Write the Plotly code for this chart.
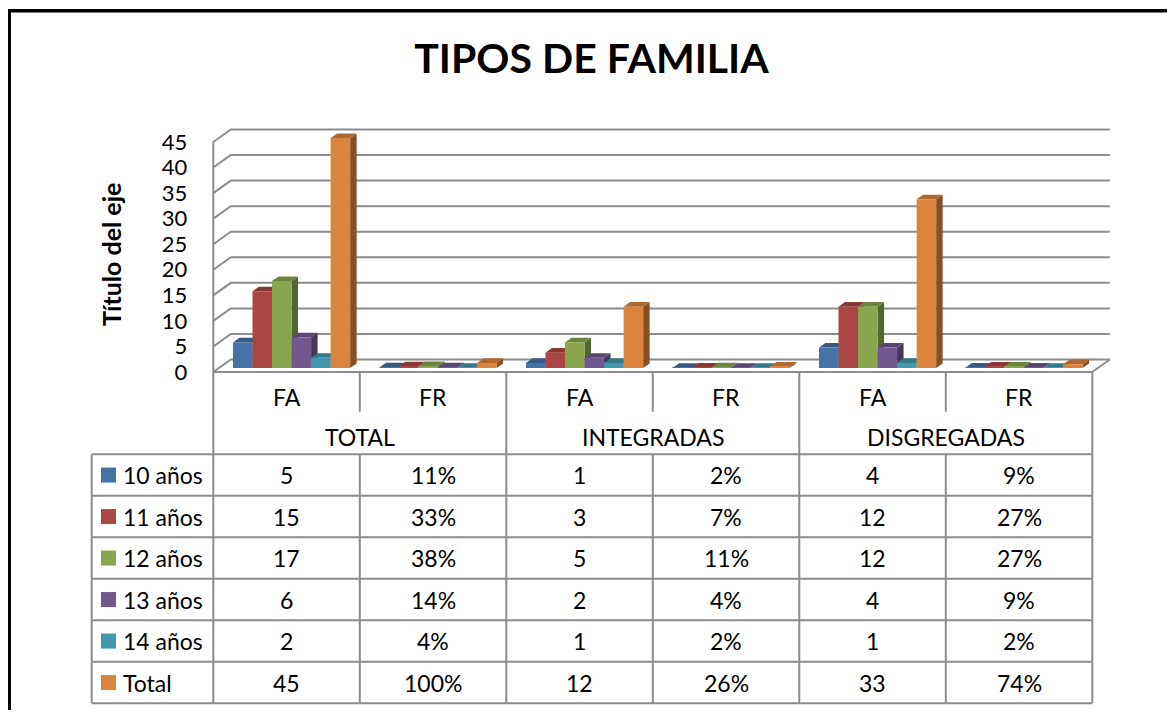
import plotly.graph_objects as go

# ---- values ----
series_names = ["10 años", "11 años", "12 años", "13 años", "14 años", "Total"]
group_names = ["TOTAL", "INTEGRADAS", "DISGREGADAS"]
measure_names = ["FA", "FR"]

total_fa = [5, 15, 17, 6, 2, 45]
total_fr = [0.11, 0.33, 0.38, 0.14, 0.04, 1.00]
integradas_fa = [1, 3, 5, 2, 1, 12]
integradas_fr = [0.02, 0.07, 0.11, 0.04, 0.02, 0.26]
disgregadas_fa = [4, 12, 12, 4, 1, 33]
disgregadas_fr = [0.09, 0.27, 0.27, 0.09, 0.02, 0.74]

y_ticks = [0, 5, 10, 15, 20, 25, 30, 35, 40, 45]

front_colors = ["#4572A7", "#AA4643", "#89A54E", "#71588F", "#4198AF", "#DB843D"]

# one column per category on the x axis: FA, FR for each group
columns = [total_fa, total_fr, integradas_fa, integradas_fr, disgregadas_fa, disgregadas_fr]
col_labels = measure_names * len(group_names)
col_is_pct = [False, True] * len(group_names)

# ---- geometry, in pixels of the 1175x718 window ----
W, H = 1175, 718
OFF = 8                              # the page body margin puts the figure 8px in
FW, FH = W - 2 * OFF, H - 2 * OFF    # keep the page from overflowing the window
X0_PX = 213.3      # left edge of the first category on the front plane
CAT_PX = 146.5     # width of one category
Y0_PX = 372.0      # value 0 on the front plane
VAL_PX = 5.111     # pixels per unit
FONT = "Lato"
LINE = "#8c8c8c"


def xv(px):
    return -0.5 + (px - X0_PX) / CAT_PX


def yv(py):
    return (Y0_PX - py) / VAL_PX


def px_paper(px):
    return (px - OFF) / FW


def py_paper(py):
    return 1 - (py - OFF) / FH


def darker(hex_color, f):
    r, g, b = (int(hex_color[i:i + 2], 16) for i in (1, 3, 5))
    return "rgb(%d,%d,%d)" % (r * f, g * f, b * f)


n_cat = len(columns)
DX, DY = 17.5 / CAT_PX, 12.5 / VAL_PX        # wall depth
BDX, BDY = 6.5 / CAT_PX, 4.6 / VAL_PX        # bar depth
Z0 = 4.0 / VAL_PX                            # bars stand a bit back on the floor
XSHIFT = 5.0 / CAT_PX
BW = 0.8 / len(series_names)
x_right = n_cat - 0.5

fig = go.Figure()
shapes = []


def path(pts):
    return "M" + " L".join("%.4f,%.4f" % p for p in pts) + " Z"


# walls: gridlines on the back wall + diagonals on the side wall
for v in y_ticks:
    shapes.append(dict(type="path", xref="x", yref="y", layer="below",
                       path="M%.4f,%.4f L%.4f,%.4f L%.4f,%.4f" % (
                           -0.5, v, -0.5 + DX, v + DY, x_right + DX, v + DY),
                       line=dict(color=LINE, width=2)))
# floor front edge and right side
shapes.append(dict(type="path", xref="x", yref="y", layer="below",
                   path="M%.4f,0 L%.4f,0 L%.4f,%.4f" % (-0.5, x_right, x_right + DX, DY),
                   line=dict(color=LINE, width=2)))

# bars: side and top faces as shapes, front faces as bar traces
for i, col in enumerate(columns):
    for k, val in enumerate(col):
        xl = i + XSHIFT - 3 * BW + k * BW
        xr = xl + BW
        top = Z0 + val
        shapes.append(dict(type="path", xref="x", yref="y", layer="below",
                           path=path([(xr, Z0), (xr, top), (xr + BDX, top + BDY), (xr + BDX, Z0 + BDY)]),
                           fillcolor=darker(front_colors[k], 0.62), line=dict(width=0)))
        shapes.append(dict(type="path", xref="x", yref="y", layer="below",
                           path=path([(xl, top), (xr, top), (xr + BDX, top + BDY), (xl + BDX, top + BDY)]),
                           fillcolor=darker(front_colors[k], 0.8), line=dict(width=0)))

for k, name in enumerate(series_names):
    fig.add_trace(go.Bar(
        x=[i + XSHIFT for i in range(n_cat)],
        y=[col[k] for col in columns],
        base=Z0, width=BW, offset=-3 * BW + k * BW,
        marker=dict(color=front_colors[k], line=dict(width=0)),
        name=name, showlegend=False,
    ))

# ---- data table under the chart ----
ROW_TOP, ROW_H = 454.3, 41.5
row_lines = [ROW_TOP + r * ROW_H for r in range(len(series_names) + 1)]
table_bottom = yv(row_lines[-1])
legend_left = xv(91.7)

# front axis line continues into the table
shapes.append(dict(type="line", xref="x", yref="y", x0=-0.5, x1=-0.5, y0=max(y_ticks),
                   y1=table_bottom, line=dict(color=LINE, width=2)))
for g in range(1, len(group_names) + 1):
    xb = 2 * g - 0.5
    shapes.append(dict(type="line", xref="x", yref="y", x0=xb, x1=xb, y0=0,
                       y1=table_bottom, line=dict(color=LINE, width=2)))
for g in range(len(group_names)):
    xb = 2 * g + 0.5
    shapes.append(dict(type="line", xref="x", yref="y", x0=xb, x1=xb, y0=0,
                       y1=yv(411.7), line=dict(color=LINE, width=2)))
    shapes.append(dict(type="line", xref="x", yref="y", x0=xb, x1=xb, y0=yv(ROW_TOP),
                       y1=table_bottom, line=dict(color=LINE, width=2)))
shapes.append(dict(type="line", xref="x", yref="y", x0=legend_left, x1=legend_left,
                   y0=yv(ROW_TOP), y1=table_bottom, line=dict(color=LINE, width=2)))
for py in row_lines:
    shapes.append(dict(type="line", xref="x", yref="y", x0=legend_left, x1=x_right,
                       y0=yv(py), y1=yv(py), line=dict(color=LINE, width=2)))

annotations = []
txt = dict(family=FONT, size=23, color="black")
for i, lab in enumerate(col_labels):
    annotations.append(dict(x=i, y=yv(397), xref="x", yref="y", text=lab,
                            showarrow=False, font=txt))
for g, lab in enumerate(group_names):
    annotations.append(dict(x=2 * g + 0.5, y=yv(437), xref="x", yref="y", text=lab,
                            showarrow=False, font=txt))
for r, name in enumerate(series_names):
    cy = yv(ROW_TOP + (r + 0.5) * ROW_H)
    half = 7.5 / VAL_PX
    shapes.append(dict(type="rect", xref="x", yref="y", x0=xv(101), x1=xv(116),
                       y0=cy - half, y1=cy + half, fillcolor=front_colors[r], line=dict(width=0)))
    annotations.append(dict(x=xv(121), y=cy, xref="x", yref="y", text=name, xanchor="left",
                            showarrow=False, font=txt))
    for i, col in enumerate(columns):
        s = "{:.0%}".format(col[r]) if col_is_pct[i] else str(col[r])
        annotations.append(dict(x=i, y=cy, xref="x", yref="y", text=s,
                                showarrow=False, font=txt))

# axis title
annotations.append(dict(x=px_paper(94), y=py_paper(255), xref="paper", yref="paper",
                        text="<b>Título del eje</b>", textangle=-90, showarrow=False,
                        font=dict(family=FONT, size=25, color="black")))

# outer frame of the chart (left and top edges visible)
shapes.append(dict(type="line", xref="paper", yref="paper", x0=px_paper(8), x1=px_paper(8),
                   y0=py_paper(9), y1=-0.05, line=dict(color="black", width=6)))
shapes.append(dict(type="line", xref="paper", yref="paper", x0=px_paper(5), x1=1.05,
                   y0=py_paper(10.7), y1=py_paper(10.7), line=dict(color="black", width=3.5)))

fig.update_layout(
    width=FW, height=FH,
    margin=dict(l=0, r=0, t=0, b=0),
    paper_bgcolor="white", plot_bgcolor="rgba(0,0,0,0)",
    barmode="overlay",
    title=dict(text="<b>TIPOS DE FAMILIA</b>", x=px_paper(591.5), y=py_paper(59),
               xanchor="center", yanchor="middle", xref="paper", yref="paper",
               font=dict(family=FONT, size=41, color="black")),
    xaxis=dict(domain=[0, 1], range=[xv(OFF), xv(OFF + FW)], visible=False, fixedrange=True),
    yaxis=dict(domain=[0, 1], range=[yv(OFF + FH), yv(OFF)], anchor="free", position=px_paper(X0_PX),
               tickvals=y_ticks, showgrid=False, zeroline=False, showline=False,
               ticks="", ticklabelstandoff=26, automargin=False, fixedrange=True,
               tickfont=dict(family=FONT, size=22, color="black")),
    shapes=shapes,
    annotations=annotations,
    showlegend=False,
)

fig.write_html("out.html")
